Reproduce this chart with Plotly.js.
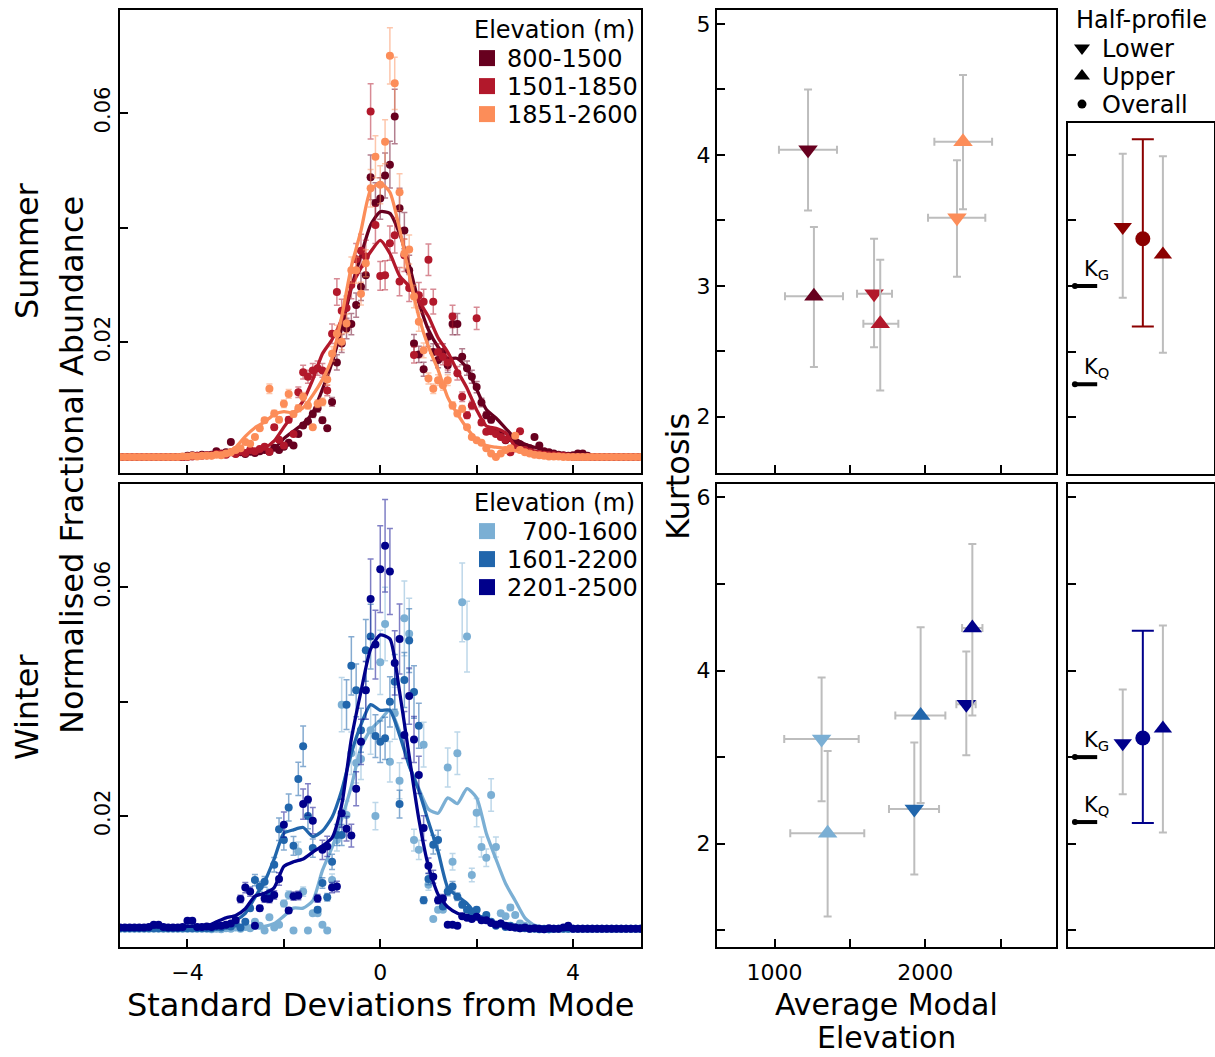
<!DOCTYPE html>
<html><head><meta charset="utf-8">
<script src="https://cdn.plot.ly/plotly-3.0.1.min.js"></script>
<style>html,body{margin:0;padding:0;background:#fff}#chart{width:1215px;height:1057px}</style>
</head><body><div id="chart"></div><script>
// ---------- DATA ----------
const XD = [-5.4,-5.3,-5.2,-5.1,-5.0,-4.9,-4.8,-4.7,-4.6,-4.5,-4.4,-4.3,-4.2,-4.1,-4.0,-3.9,-3.8,-3.7,-3.6,
 -3.5,-3.4,-3.3,-3.2,-3.1,-3.0,-2.9,-2.8,-2.7,-2.6,-2.5,-2.4,-2.3,-2.2,-2.1,-2.0,-1.9,-1.8,-1.7,-1.6,
 -1.5,-1.4,-1.3,-1.2,-1.1,-1.0,-0.9,-0.8,-0.7,-0.6,-0.5,-0.4,-0.3,-0.2,-0.1,
 0.0,
 0.1,0.2,0.3,0.4,0.5,0.6,0.7,0.8,0.9,1.0,1.1,1.2,1.3,1.4,1.5,1.6,1.7,1.8,1.9,2.0,
 2.1,2.2,2.3,2.4,2.5,2.6,2.7,2.8,2.9,3.0,3.1,3.2,3.3,3.4,3.5,
 3.6,3.7,3.8,3.9,4.0,4.1,4.2,4.3,4.4,4.5,4.6,4.7,4.8,4.9,5.0,5.1,5.2,5.3,5.4];
const XC = [-5.4,-4.0,-3.8,-3.6,-3.4,-3.2,-3.0,-2.8,-2.6,-2.4,-2.2,-2.0,-1.8,-1.6,-1.4,-1.2,-1.0,-0.8,-0.6,-0.4,-0.2,
 0.0,0.2,0.4,0.6,0.8,1.0,1.2,1.4,1.6,1.8,2.0,2.2,2.4,2.6,2.8,3.0,3.2,3.4,3.6,3.8,4.0,5.4];

const SUMMER_GROUPS = ['800-1500','1501-1850','1851-2600'];
const WINTER_GROUPS = ['\u2007700-1600','1601-2200','2201-2500'];
const PROFILE_NAMES = ['Lower','Upper','Overall'];

// Summer dots
const S_DOTS_800 = [0,0,0,0,0,0,0,0,0,0,0,0,0,0,0.0002,0.0003,0.0002,0.0004,0.0003,
 .0004,.001,.0005,.0008,.0026,.0006,.0008,.0005,.0009,.0007,
 .001,.0012,.0009,.0016,.0012,.0018,.0025,.002,.004,.0055,
 .0062,.0075,.0085,.0064,.005,.0096,.0165,.0198,.0224,.0232,
 .0265,.0297,.0317,.0488,.0443,
 .0451,
 .0491,.051,.0594,.0434,.0395,.0326,.0198,.0179,.0153,.021,
 .0183,.0169,.0183,.016,.0232,.0232,.0175,.0155,.014,.0122,
 .0095,.0073,.0065,.0044,.004,.0029,.0033,.0025,.0022,.0018,
 .0015,.0035,.002,.001,.0008,
 .0006,.0004,.0003,.0002,.0003,.0006,.0006,.0002,0,0,0,0,0,0,0,0,0,0,0];
const S_DOTS_1501 = [0,0,0,0,0,0,0,0,0,0,0,0,0,0,0,0.0001,0.0002,0.0002,0.0003,
 .0003,.0005,.0006,.0004,.0008,.0005,.001,.0007,.0012,.001,
 .0014,.0018,.0009,.0052,.003,.002,.0065,.004,.0113,.0148,
 .014,.0151,.0155,.0151,.0116,.0215,.0288,.0255,.026,.03,
 .0345,.036,.035,.0603,.0405,
 .0316,
 .0317,.0373,.0387,.0306,.0352,.0295,.0178,.0282,.0271,.0344,
 .0271,.0183,.0175,.0165,.0245,.0146,.0105,.0073,.009,.0242,
 .006,.0044,.0045,.004,.0035,.003,.0008,.0015,.0045,.0012,
 .0009,.0006,.0005,.0004,.0003,
 .0003,.0002,.0002,.0001,0,0,0,0,0,0,0,0,0,0,0,0,0,0,0];
const S_DOTS_1851 = [0,0,0,0,0,0,0,0,0,0,0,0,0,0.0001,0.0001,0.0002,0.0001,0.0002,0.0002,
 .0002,.0004,.0003,.0006,.0008,.0012,.0015,.0026,.0023,.0035,
 .005,.0064,.0119,.0076,.0065,.0093,.011,.0075,.0085,.0105,
 .009,.0052,.0093,.0096,.0135,.018,.0215,.0201,.0233,.0326,
 .0326,.0285,.0338,.0469,.0524,
 .0475,
 .055,.07,.0652,.0462,.0355,.0362,.028,.0236,.0186,.0137,
 .0119,.0134,.0125,.0134,.009,.0076,.0084,.0052,.0035,.0029,
 .0025,.0015,.0006,0,.0006,.0012,.0015,.0037,.0012,.0008,
 .0006,.0004,.0003,.0002,.0001,
 .0001,.0001,0,0,0,0,0,0,0,0,0,0,0,0,0,0,0,0,0];
// Summer smoothed curves
const S_CURVE_800 = [0,
 .0001,.0002,.0003,.0004,.0005,.0006,.0008,.001,.0011,.0015,
 .0032,.0045,.0058,.0078,.0118,.0165,.0225,.0295,.0352,.0405,
 .0428,
 .0425,.039,.0335,.027,.0222,.0192,.0172,.0172,.0155,.0118,
 .0083,.0068,.005,.0032,.0022,.0017,.0012,.0007,.0004,.0002,
 0];
const S_CURVE_1501 = [0,
 .0001,.0002,.0003,.0005,.0006,.0007,.0009,.0012,.0016,.0028,
 .0052,.0075,.0098,.0135,.018,.0205,.024,.0297,.033,.0358,
 .0378,
 .0355,.0316,.0298,.0272,.0245,.0208,.0183,.015,.012,.0082,
 .0054,.005,.0042,.0019,.0014,.001,.0007,.0005,.0003,.0001,
 0];
const S_CURVE_1851 = [0,
 .0001,.0002,.0003,.0005,.0008,.0017,.0036,.0051,.0061,.0074,
 .0079,.0077,.0086,.0108,.0135,.0172,.0245,.0332,.0395,.0466,
 .0478,
 .0462,.0398,.0318,.0245,.0192,.0152,.0104,.0075,.005,.003,
 .002,.0017,.0015,.0011,.0008,.0006,.0004,.0002,.0001,.0001,
 0];

// Winter dots
const W_DOTS_700 = [.0003,.0003,.0003,.0003,.0003,.0003,.0003,.0003,.0003,.0003,.0003,.0003,.0003,.0003,.0003,.0003,.0003,.0003,.0003,
 .0002,.0003,.0002,.0004,.0003,.0005,.0003,.0006,.0004,.0015,
 .0008,0,.0023,.0005,.001,.0047,.0062,0,.0138,.0068,
 0,.003,.003,.001,0,.0088,.0158,.0395,.0202,.031,
 .0293,.03,.042,.035,.02,
 .0469,
 .0536,.0295,.038,.0262,.0546,.0519,.0158,.0141,.0325,.008,
 .002,.0036,.0036,.0285,.012,.031,.0574,.0514,.0097,.0206,
 .0146,.0127,.0237,.0146,.003,.0025,.004,.0027,.0012,.0008,
 .0005,.0004,.0003,.0002,.0002,
 .0003,.0003,.0003,.0003,.0003,.0003,.0003,.0003,.0003,.0003,.0003,.0003,.0003,.0003,.0003,.0003,.0003,.0003,.0003];
const W_DOTS_1601 = [.0004,.0004,.0004,.0004,.0004,.0004,.0004,.0004,.0004,.0004,.0004,.0004,.0004,.0004,.0004,.0004,.0004,.0004,.0004,
 .0004,.0006,.0005,.0008,.0007,.0012,.0005,.0015,.0039,.0088,
 .0077,.0085,.0065,.0115,.0177,.0158,.0215,.0148,.0265,.0322,
 .02,.0144,.0036,.0083,.0058,.012,.0167,.0167,.0395,.0463,
 .042,.035,.049,.0514,.034,
 .033,
 .0336,.04,.0435,.0221,.0438,.0507,.0417,.0358,.0053,.009,
 .015,.0158,.0042,.0068,.0077,.0059,.0045,.0036,.003,.0036,
 .002,.0027,.0015,.0008,.0012,.0006,.0008,.0005,.0004,.0004,
 .0003,.0003,.0002,.0003,.0002,
 .0003,.0003,.0003,.0003,.0003,.0003,.0003,.0003,.0003,.0003,.0003,.0003,.0003,.0003,.0003,.0003,.0003,.0003,.0003];
const W_DOTS_2201 = [.0005,.0005,.0005,.0005,.0005,.0005,.0006,.001,.001,.0006,.0005,.0005,.0005,.0006,.0017,.0017,.0006,.0006,.0007,
 .0006,.0008,.0008,.001,.0012,.0018,.0055,.0075,.0068,.0008,
 .0039,.0056,.0055,.0062,.009,.0185,.0035,.006,.0061,.0221,
 .0229,.0192,.0056,.0141,.0147,.0075,.0077,.0205,.0178,.0166,
 .0248,.033,.042,.058,.05,
 .0632,
 .0673,.0628,.0468,.051,.0342,.041,.0334,.0272,.0179,.0113,
 .0094,.0053,.0056,.001,.001,.0008,.0025,.0022,.002,.0024,
 .0018,.0018,.0013,.001,.0012,.0008,.0006,.0005,.0004,.0005,
 .0003,.0004,.0003,.0002,.0004,
 .0003,.0003,.0005,.0008,.0003,.0003,.0003,.0003,.0003,.0003,.0003,.0003,.0003,.0003,.0003,.0003,.0003,.0003,.0003];
// Winter smoothed curves
const W_CURVE_700 = [.0003,
 .0003,.0003,.0003,.0003,.0003,.0003,.0003,.0004,.0007,.0012,
 .0025,.0039,.0039,.0052,.0105,.0145,.0195,.0252,.032,.0351,
 .0368,
 .0386,.0348,.029,.0248,.0212,.0205,.0232,.0222,.0248,.0232,
 .017,.0125,.0082,.0052,.0022,.0009,.0006,.0004,.0003,.0003,
 .0003];
const W_CURVE_1601 = [.0005,
 .0006,.0006,.0007,.0009,.0012,.0018,.003,.0058,.0085,.0125,
 .017,.0176,.018,.0164,.0174,.0198,.0245,.031,.036,.0395,
 .0385,
 .0385,.0342,.0288,.0245,.019,.0138,.0075,.006,.0047,.0028,
 .0019,.0014,.0009,.0006,.0004,.0003,.0003,.0002,.0002,.0002,
 .0002];
const W_CURVE_2201 = [.0005,
 .0007,.0007,.0008,.0015,.0022,.0026,.0038,.006,.0065,.0075,
 .0112,.012,.0125,.0137,.0148,.0162,.022,.0335,.0418,.0492,
 .0517,
 .051,.0418,.0305,.0195,.0112,.0063,.0041,.003,.0025,.0021,
 .0017,.0013,.0008,.0005,.0003,.0002,.0002,.0002,.0002,.0002,
 .0002];
const S_ERR_PCT = [8, 8, 7];
const W_ERR_PCT = [12, 11, 12];

// Kurtosis vs elevation (per elevation band)
const S_LOWER_ELEV = [1222, 1660, 2210], S_LOWER_ELEV_LO = [1029, 1547, 2018], S_LOWER_ELEV_HI = [1414, 1779, 2398];
const S_LOWER_K = [4.04, 2.94, 3.52], S_LOWER_K_LO = [3.575, 2.53, 3.07], S_LOWER_K_HI = [4.5, 3.36, 3.96];
const S_UPPER_ELEV = [1261, 1701, 2250], S_UPPER_ELEV_LO = [1069, 1589, 2060], S_UPPER_ELEV_HI = [1454, 1821, 2443];
const S_UPPER_K = [2.92, 2.71, 4.1], S_UPPER_K_LO = [2.38, 2.2, 3.585], S_UPPER_K_HI = [3.45, 3.2, 4.61];
const W_LOWER_ELEV = [1312, 1927, 2272], W_LOWER_ELEV_LO = [1064, 1759, 2206], W_LOWER_ELEV_HI = [1558, 2091, 2334];
const W_LOWER_K = [3.21, 2.40, 3.61], W_LOWER_K_LO = [2.49, 1.645, 3.02], W_LOWER_K_HI = [3.92, 3.17, 4.22];
const W_UPPER_ELEV = [1352, 1969, 2312], W_UPPER_ELEV_LO = [1104, 1801, 2244], W_UPPER_ELEV_HI = [1595, 2133, 2379];
const W_UPPER_K = [2.12, 3.48, 4.49], W_UPPER_K_LO = [1.16, 2.47, 3.48], W_UPPER_K_HI = [3.07, 4.50, 5.46];

// Overall (all elevations) kurtosis: [Lower, Overall, Upper]
const S_ALL_K = [3.45, 3.36, 3.24], S_ALL_K_LO = [2.91, 2.69, 2.49], S_ALL_K_HI = [4.01, 4.12, 3.99];
const W_ALL_K = [3.16, 3.22, 3.33], W_ALL_K_LO = [2.57, 2.24, 2.13], W_ALL_K_HI = [3.78, 4.46, 4.52];
const K_G = 3.0, K_Q = 2.25;

// ---------- STYLE ----------
const F = 'DejaVu Sans';
const S_COLORS = ['#67001f', '#b2182b', '#fc8d59'];
const S_ERRC = ['rgba(103,0,31,0.5)', 'rgba(178,24,43,0.5)', 'rgba(252,141,89,0.5)'];
const W_COLORS = ['#7bafd4', '#2166ac', '#00008b'];
const W_ERRC = ['rgba(123,175,212,0.5)', 'rgba(33,102,172,0.55)', 'rgba(0,0,139,0.5)'];
const S_DARK = '#8b0000', W_DARK = '#00008b', GREY = '#bdbdbd';
const PROFILE_X = [-0.55, 0, 0.55];
const KLINE_X = [-1.86, -1.25];

const traces = [];
function addProfile(dots, curve, color, errc, pct, xa, ya) {
  traces.push({type:'scatter', mode:'markers', x:XD, y:dots, xaxis:xa, yaxis:ya, showlegend:false, hoverinfo:'skip',
    marker:{size:8, color:color},
    error_y:{type:'percent', value:pct, color:errc, thickness:1.5, width:3}});
  traces.push({type:'scatter', mode:'lines', x:XC, y:curve, xaxis:xa, yaxis:ya, showlegend:false, hoverinfo:'skip',
    line:{color:color, width:3.3, shape:'spline', smoothing:0.6}});
}
addProfile(S_DOTS_800, S_CURVE_800, S_COLORS[0], S_ERRC[0], S_ERR_PCT[0], 'x', 'y');
addProfile(S_DOTS_1501, S_CURVE_1501, S_COLORS[1], S_ERRC[1], S_ERR_PCT[1], 'x', 'y');
addProfile(S_DOTS_1851, S_CURVE_1851, S_COLORS[2], S_ERRC[2], S_ERR_PCT[2], 'x', 'y');
addProfile(W_DOTS_700, W_CURVE_700, W_COLORS[0], W_ERRC[0], W_ERR_PCT[0], 'x2', 'y2');
addProfile(W_DOTS_1601, W_CURVE_1601, W_COLORS[1], W_ERRC[1], W_ERR_PCT[1], 'x2', 'y2');
addProfile(W_DOTS_2201, W_CURVE_2201, W_COLORS[2], W_ERRC[2], W_ERR_PCT[2], 'x2', 'y2');

// legend keys (each entry in its own legend box so rows can be spaced like the original)
SUMMER_GROUPS.forEach((g, i) => traces.push({type:'scatter', mode:'markers', x:[null], y:[null], xaxis:'x', yaxis:'y',
  name:g, legend:'legend' + (i === 0 ? '' : (i + 1)), showlegend:true, hoverinfo:'skip',
  marker:{symbol:'square', size:18, color:S_COLORS[i]}}));
WINTER_GROUPS.forEach((g, i) => traces.push({type:'scatter', mode:'markers', x:[null], y:[null], xaxis:'x2', yaxis:'y2',
  name:g, legend:'legend' + (i + 4), showlegend:true, hoverinfo:'skip',
  marker:{symbol:'square', size:18, color:W_COLORS[i]}}));
[['triangle-down', 14], ['triangle-up', 14], ['circle', 9]].forEach(([s, sz], i) =>
  traces.push({type:'scatter', mode:'markers', x:[null], y:[null], xaxis:'x3', yaxis:'y3', name:PROFILE_NAMES[i],
    legend:'legend' + (i + 7), showlegend:true, hoverinfo:'skip', marker:{symbol:s, size:sz, color:'#000'}}));

function diff(a, b) { return a.map((v, i) => v - b[i]); }
function kurtTrace(ex, elo, ehi, k, klo, khi, sym, colors, xa, ya) {
  traces.push({type:'scatter', mode:'markers', x:ex, y:k, xaxis:xa, yaxis:ya, showlegend:false, hoverinfo:'skip',
    marker:{symbol:sym, size:17, color:colors},
    error_x:{type:'data', symmetric:false, array:diff(ehi, ex), arrayminus:diff(ex, elo), color:GREY, thickness:2, width:4},
    error_y:{type:'data', symmetric:false, array:diff(khi, k), arrayminus:diff(k, klo), color:GREY, thickness:2, width:4}});
}
kurtTrace(S_LOWER_ELEV, S_LOWER_ELEV_LO, S_LOWER_ELEV_HI, S_LOWER_K, S_LOWER_K_LO, S_LOWER_K_HI, 'triangle-down', S_COLORS, 'x3', 'y3');
kurtTrace(S_UPPER_ELEV, S_UPPER_ELEV_LO, S_UPPER_ELEV_HI, S_UPPER_K, S_UPPER_K_LO, S_UPPER_K_HI, 'triangle-up', S_COLORS, 'x3', 'y3');
kurtTrace(W_LOWER_ELEV, W_LOWER_ELEV_LO, W_LOWER_ELEV_HI, W_LOWER_K, W_LOWER_K_LO, W_LOWER_K_HI, 'triangle-down', W_COLORS, 'x4', 'y4');
kurtTrace(W_UPPER_ELEV, W_UPPER_ELEV_LO, W_UPPER_ELEV_HI, W_UPPER_K, W_UPPER_K_LO, W_UPPER_K_HI, 'triangle-up', W_COLORS, 'x4', 'y4');

function overall(k, klo, khi, col, xa, ya) {
  const syms = ['triangle-down', 'circle', 'triangle-up'];
  [0, 2, 1].forEach(i => {
    const isAll = i === 1;
    traces.push({type:'scatter', mode:'markers', x:[PROFILE_X[i]], y:[k[i]], xaxis:xa, yaxis:ya, showlegend:false, hoverinfo:'skip',
      marker:{symbol:syms[i], size:isAll ? 15 : 16, color:col},
      error_y:{type:'data', symmetric:false, array:[khi[i] - k[i]], arrayminus:[k[i] - klo[i]],
        color:isAll ? col : GREY, thickness:2, width:isAll ? 11 : 4}});
  });
  [K_G, K_Q].forEach(v => traces.push({type:'scatter', mode:'lines', x:KLINE_X, y:[v, v], xaxis:xa, yaxis:ya,
    showlegend:false, hoverinfo:'skip', line:{color:'#000', width:4}}));
  traces.push({type:'scatter', mode:'markers', x:[KLINE_X[0], KLINE_X[0]], y:[K_G, K_Q], xaxis:xa, yaxis:ya,
    showlegend:false, hoverinfo:'skip', marker:{size:6, color:'#000'}});
}
overall(S_ALL_K, S_ALL_K_LO, S_ALL_K_HI, S_DARK, 'x5', 'y5');
overall(W_ALL_K, W_ALL_K_LO, W_ALL_K_HI, W_DARK, 'x6', 'y6');

// ---------- LAYOUT ----------
function ax(extra) {
  return Object.assign({showline:true, linecolor:'#000', linewidth:2, mirror:true, ticks:'inside', ticklen:8, tickwidth:2,
    tickcolor:'#000', showgrid:false, zeroline:false, tickmode:'array', fixedrange:true,
    tickfont:{family:F, size:22, color:'#000'}}, extra);
}
const W = 1215, H = 1057;
const dx = (a, b) => [a / W, b / W];
const dy = (top, bot) => [1 - bot / H, 1 - top / H];
const XL = dx(120, 641), XR = dx(717, 1056), XS = dx(1068, 1214);
const YT = dy(10, 473), YB = dy(484, 947), YTS = dy(123, 474);

function ann(text, x, y, size, angle, anchor) {
  return {text:text, xref:'paper', yref:'paper', x:x / W, y:1 - y / H, showarrow:false, textangle:angle || 0,
    xanchor:anchor || 'center', yanchor:'middle', font:{family:F, size:size, color:'#000'}};
}
function kAnn(text, xa, ya, y) {
  return {text:text, xref:xa, yref:ya, x:-1.68, y:y, xanchor:'left', yanchor:'bottom', showarrow:false, yshift:1,
    font:{family:F, size:21, color:'#000'}};
}
const LEG_OFF = 22;
function legAt(xpx, ycpx) {
  return {bgcolor:'rgba(0,0,0,0)', font:{family:F, size:24, color:'#000'}, tracegroupgap:0,
    itemclick:false, itemdoubleclick:false, xanchor:'left', yanchor:'top', x:xpx / W, y:1 - (ycpx - LEG_OFF) / H};
}

const layout = {
  width:W, height:H, margin:{l:0, r:0, t:0, b:0}, paper_bgcolor:'#fff', plot_bgcolor:'#fff',
  font:{family:F, color:'#000'}, hovermode:false,
  xaxis: ax({domain:XL, anchor:'y', range:[-5.4, 5.41], tickvals:[-4,-2,0,2,4], showticklabels:false}),
  yaxis: ax({domain:YT, anchor:'x', range:[-0.0028, 0.078], tickvals:[0.02,0.04,0.06], ticktext:['0.02','','0.06'],
    tickangle:-90, tickfont:{family:F, size:21, color:'#000'}}),
  xaxis2: ax({domain:XL, anchor:'y2', range:[-5.4, 5.41], tickvals:[-4,-2,0,2,4], ticktext:['\u22124','','0','','4'], ticklabelstandoff:5}),
  yaxis2: ax({domain:YB, anchor:'x2', range:[-0.0029, 0.0781], tickvals:[0.02,0.04,0.06], ticktext:['0.02','','0.06'],
    tickangle:-90, tickfont:{family:F, size:21, color:'#000'}}),
  xaxis3: ax({domain:XR, anchor:'y3', range:[618, 2867], tickvals:[1000,1500,2000,2500], showticklabels:false}),
  yaxis3: ax({domain:YT, anchor:'x3', range:[1.57, 5.107], tickvals:[2,2.5,3,3.5,4,4.5,5], ticktext:['2','','3','','4','','5']}),
  xaxis4: ax({domain:XR, anchor:'y4', range:[618, 2867], tickvals:[1000,1500,2000,2500], ticktext:['1000','','2000',''], ticklabelstandoff:5}),
  yaxis4: ax({domain:YB, anchor:'x4', range:[0.807, 6.154], tickvals:[1,2,3,4,5,6], ticktext:['','2','','4','','6']}),
  xaxis5: ax({domain:XS, anchor:'y5', range:[-2.05, 1.95], ticks:'', tickvals:[], showticklabels:false}),
  yaxis5: ax({domain:YTS, anchor:'x5', range:[1.565, 4.244], tickvals:[2,2.5,3,3.5,4], showticklabels:false}),
  xaxis6: ax({domain:XS, anchor:'y6', range:[-2.05, 1.95], ticks:'', tickvals:[], showticklabels:false}),
  yaxis6: ax({domain:YB, anchor:'x6', range:[0.807, 6.154], tickvals:[1,2,3,4,5,6], showticklabels:false}),
  legend: legAt(467, 58), legend2: legAt(467, 86), legend3: legAt(467, 114),
  legend4: legAt(467, 531), legend5: legAt(467, 559), legend6: legAt(467, 587),
  legend7: legAt(1062, 48), legend8: legAt(1062, 76), legend9: legAt(1062, 104),
  annotations: [
    ann('Elevation (m)', 472, 30, 24, 0, 'left'),
    ann('Elevation (m)', 472, 503, 24, 0, 'left'),
    ann('Half-profile', 1074, 20, 24, 0, 'left'),
    ann('Normalised Fractional Abundance', 72, 465, 32, -90),
    ann('Summer', 27, 251, 32, -90),
    ann('Winter', 27, 707, 32, -90),
    ann('Kurtosis', 678, 477, 32, -90),
    ann('Standard Deviations from Mode', 380, 1005, 32, 0),
    ann('Average Modal', 886, 1004, 30, 0),
    ann('Elevation', 886, 1037, 30, 0),
    kAnn('K<sub>G</sub>', 'x5', 'y5', K_G), kAnn('K<sub>Q</sub>', 'x5', 'y5', K_Q),
    kAnn('K<sub>G</sub>', 'x6', 'y6', K_G), kAnn('K<sub>Q</sub>', 'x6', 'y6', K_Q)
  ]
};
Plotly.newPlot('chart', traces, layout, {displayModeBar:false, staticPlot:true});
</script></body></html>
